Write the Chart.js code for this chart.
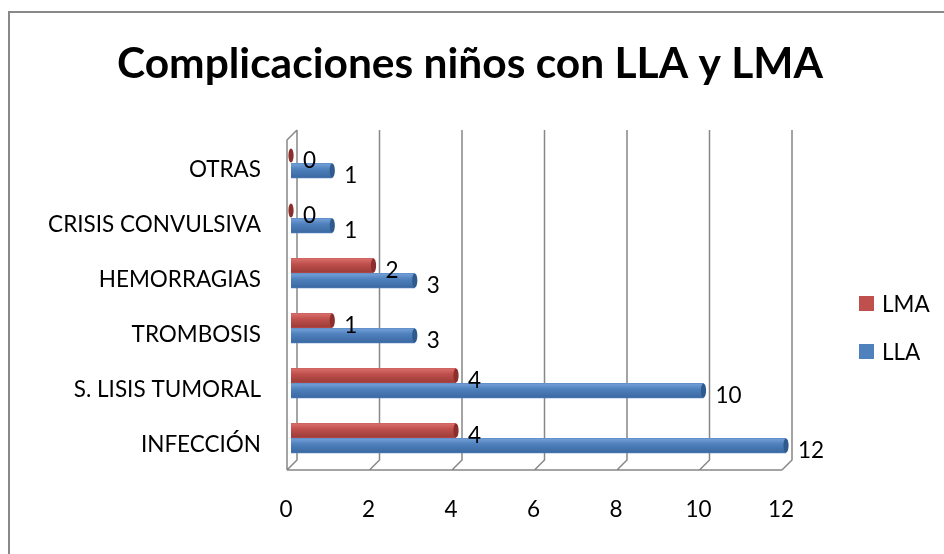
<!DOCTYPE html>
<html>
<head>
<meta charset="utf-8">
<script src="https://cdn.jsdelivr.net/npm/chart.js@4/dist/chart.umd.min.js"></script>
<style>
  html, body { margin: 0; padding: 0; background: #fff; }
  #wrap { width: 944px; height: 554px; }
</style>
</head>
<body>
<div id="wrap"><canvas id="chart" width="944" height="554"></canvas></div>
<script>
// chart data
var categories = ['OTRAS', 'CRISIS CONVULSIVA', 'HEMORRAGIAS', 'TROMBOSIS', 'S. LISIS TUMORAL', 'INFECCIÓN'];
var lmaValues = [0, 0, 2, 1, 4, 4];
var llaValues = [1, 1, 3, 3, 10, 12];
var xTicks = [0, 2, 4, 6, 8, 10, 12];
var titleText = 'Complicaciones niños con LLA y LMA';

var FONT = 'Lato, "Open Sans", sans-serif';
var TEXT_SIZE = 22.5;
var frameColor = '#878787';

// colours for each series: base, light (top), dark (bottom), cap
var shades = {
  LMA: { base: '#C0504D', light: '#DC7370', dark: '#9A3A37', cap: '#8C2F2C' },
  LLA: { base: '#4F81BD', light: '#78A3DA', dark: '#3A67A0', cap: '#2F5A8E' }
};

// white page, the two border lines at top/left, and the title centred on the page
var pageBorder = {
  id: 'pageBorder',
  beforeDraw: function(chart) {
    var ctx = chart.ctx;
    ctx.save();
    ctx.fillStyle = '#fff';
    ctx.fillRect(0, 0, chart.width, chart.height);
    ctx.strokeStyle = '#888';
    ctx.lineWidth = 2;
    ctx.beginPath();
    ctx.moveTo(9, chart.height);
    ctx.lineTo(9, 12);
    ctx.lineTo(chart.width, 12);
    ctx.stroke();

    ctx.fillStyle = '#000';
    ctx.font = 'bold 42.5px ' + FONT;
    ctx.textAlign = 'center';
    ctx.textBaseline = 'alphabetic';
    ctx.fillText(titleText, chart.width / 2 - 2, 78);
    ctx.restore();
  }
};

// fake 3D walls: back wall gridlines, floor and left wall
var frame3d = {
  id: 'frame3d',
  beforeDatasetsDraw: function(chart) {
    var ctx = chart.ctx;
    var xs = chart.scales.x;
    var area = chart.chartArea;
    var depth = 10;
    var floorFront = area.bottom + 4.5;
    var floorBack = floorFront - depth;
    var wallTop = area.top - 5.5;
    function front(v) { return xs.getPixelForValue(v) - 4; }

    ctx.save();
    ctx.strokeStyle = frameColor;
    ctx.lineWidth = 1.5;
    ctx.beginPath();
    // back wall vertical gridlines + floor slants
    xTicks.forEach(function(v) {
      var fx = front(v);
      ctx.moveTo(fx + depth, wallTop);
      ctx.lineTo(fx + depth, floorBack);
      ctx.lineTo(fx, floorFront);
    });
    // floor front edge
    ctx.moveTo(front(xTicks[0]), floorFront);
    ctx.lineTo(front(xTicks[xTicks.length - 1]), floorFront);
    // left wall
    ctx.moveTo(front(0), floorFront);
    ctx.lineTo(front(0), wallTop + depth);
    ctx.lineTo(front(0) + depth, wallTop);
    ctx.stroke();
    ctx.restore();
  }
};

// cylinder look: gradient body + darker cap at the end
var barShade = {
  id: 'barShade',
  afterDatasetsDraw: function(chart) {
    var ctx = chart.ctx;
    chart.data.datasets.forEach(function(ds, i) {
      var meta = chart.getDatasetMeta(i);
      var c = shades[ds.label];
      meta.data.forEach(function(el) {
        var p = el.getProps(['x', 'y', 'base', 'height'], true);
        var top = p.y - p.height / 2;
        var bottom = p.y + p.height / 2;
        var left = Math.min(p.base, p.x);
        var right = Math.max(p.base, p.x);
        ctx.save();
        var g = ctx.createLinearGradient(0, top, 0, bottom);
        g.addColorStop(0, c.light);
        g.addColorStop(0.4, c.base);
        g.addColorStop(1, c.dark);
        ctx.fillStyle = g;
        ctx.fillRect(left, top + 0.5, right - left, p.height - 1);
        // end cap
        ctx.beginPath();
        ctx.ellipse(right, p.y, 2.6, p.height / 2 - 0.5, 0, 0, Math.PI * 2);
        ctx.fillStyle = c.cap;
        ctx.fill();
        ctx.restore();
      });
    });
  }
};

// value labels to the right of each bar
var valueLabels = {
  id: 'valueLabels',
  afterDatasetsDraw: function(chart) {
    var ctx = chart.ctx;
    ctx.save();
    ctx.font = TEXT_SIZE + 'px ' + FONT;
    ctx.fillStyle = '#000';
    ctx.textAlign = 'left';
    ctx.textBaseline = 'middle';
    chart.data.datasets.forEach(function(ds, i) {
      var meta = chart.getDatasetMeta(i);
      meta.data.forEach(function(el, j) {
        var p = el.getProps(['x', 'y'], true);
        ctx.fillText(String(ds.data[j]), p.x + 12, p.y + 5);
      });
    });
    ctx.restore();
  }
};

// legend on the right, squares + names
var sideLegend = {
  id: 'sideLegend',
  afterDraw: function(chart) {
    var ctx = chart.ctx;
    var area = chart.chartArea;
    var x = area.right + 73;
    var y = (area.top + area.bottom) / 2 + 3;
    ctx.save();
    ctx.font = TEXT_SIZE + 'px ' + FONT;
    ctx.textBaseline = 'middle';
    ctx.textAlign = 'left';
    chart.data.datasets.forEach(function(ds) {
      ctx.fillStyle = shades[ds.label].base;
      ctx.fillRect(x, y - 7.5, 15, 15);
      ctx.fillStyle = '#000';
      ctx.fillText(ds.label, x + 23, y + 1);
      y += 48;
    });
    ctx.restore();
  }
};

var chart = new Chart(document.getElementById('chart'), {
  type: 'bar',
  data: {
    labels: categories,
    datasets: [
      { label: 'LMA', data: lmaValues, backgroundColor: shades.LMA.base },
      { label: 'LLA', data: llaValues, backgroundColor: shades.LLA.base }
    ]
  },
  options: {
    indexAxis: 'y',
    responsive: false,
    animation: false,
    categoryPercentage: 0.55,
    barPercentage: 1,
    layout: { padding: { left: 0, right: 158, top: 135.5, bottom: 32.5 } },
    plugins: {
      legend: { display: false },
      tooltip: { enabled: false },
      title: { display: false }
    },
    scales: {
      x: {
        min: 0,
        max: 12,
        afterBuildTicks: function(scale) {
          scale.ticks = xTicks.map(function(v) { return { value: v }; });
        },
        afterFit: function(scale) { scale.height = 56; },
        grid: { display: false, drawTicks: false },
        border: { display: false },
        ticks: {
          color: '#000',
          font: { family: FONT, size: TEXT_SIZE },
          padding: 31,
          labelOffset: -5,
          maxRotation: 0
        }
      },
      y: {
        afterFit: function(scale) { scale.width = 291; },
        grid: { display: false, drawTicks: false },
        border: { display: false },
        ticks: {
          color: '#000',
          font: { family: FONT, size: TEXT_SIZE },
          padding: 30,
          labelOffset: 7
        }
      }
    }
  },
  plugins: [pageBorder, frame3d, barShade, valueLabels, sideLegend]
});
</script>
</body>
</html>
